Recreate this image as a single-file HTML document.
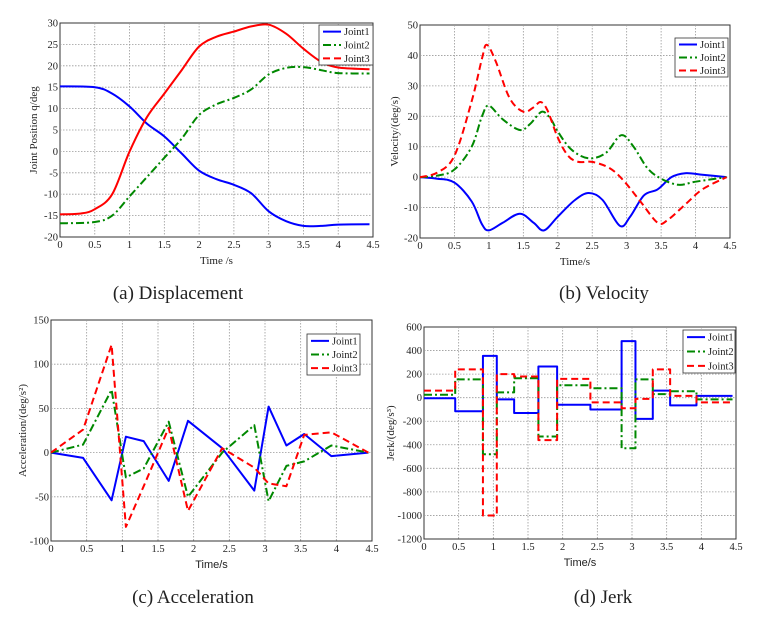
<!DOCTYPE html>
<html><head><meta charset="utf-8"><style>
body{margin:0;background:#fff;width:776px;height:620px;overflow:hidden}
svg{display:block}
text{font-family:"Liberation Serif",serif;fill:#222}
</style></head><body>
<svg id="s" width="776" height="620" xmlns="http://www.w3.org/2000/svg"></svg>
<script>
const S=document.getElementById('s');let H='';
const col={1:'#0000ff',2:'#008800',3:'#ff0000'};
const dash={1:'',2:'8,3,2,3',3:'7,4'};
function cr(pts){
 let d='M'+pts[0][0]+','+pts[0][1];
 for(let i=0;i<pts.length-1;i++){const p0=pts[i-1]||pts[i],p1=pts[i],p2=pts[i+1],p3=pts[i+2]||p2;
  const c1=[p1[0]+(p2[0]-p0[0])/6,p1[1]+(p2[1]-p0[1])/6],c2=[p2[0]-(p3[0]-p1[0])/6,p2[1]-(p3[1]-p1[1])/6];
  d+=` C${c1[0].toFixed(1)},${c1[1].toFixed(1)} ${c2[0].toFixed(1)},${c2[1].toFixed(1)} ${p2[0].toFixed(1)},${p2[1].toFixed(1)}`;}
 return d;}
function plot(o){
 const X=t=>o.x0+(o.x1-o.x0)*t/4.5,Y=v=>o.y1+(o.y0-o.y1)*(v-o.ymin)/(o.ymax-o.ymin);
 H+=`<rect x="${o.x0}" y="${o.y0}" width="${o.x1-o.x0}" height="${o.y1-o.y0}" fill="#fff" stroke="#333" stroke-width="1"/>`;
 for(let i=0;i<=9;i++){const t=i*0.5,x=X(t);
  if(i>0&&i<9)H+=`<line x1="${x}" y1="${o.y0}" x2="${x}" y2="${o.y1}" stroke="#999" stroke-dasharray="1.5,1.5" stroke-width="0.8"/>`;
  H+=`<text x="${x}" y="${o.y1+11}" font-size="10.5" text-anchor="middle">${t}</text>`;}
 for(const v of o.ticks){const y=Y(v);
  if(v!=o.ymin&&v!=o.ymax)H+=`<line x1="${o.x0}" y1="${y}" x2="${o.x1}" y2="${y}" stroke="#999" stroke-dasharray="1.5,1.5" stroke-width="0.8"/>`;
  H+=`<text x="${o.x0-2}" y="${y+3.5}" font-size="10.5" text-anchor="end">${v}</text>`;}
 const dd=k=>(o.dash&&o.dash[k]!==undefined)?o.dash[k]:dash[k];
 for(const s of o.series){let d;
  if(o.type=='smooth')d=cr(s.p.map(p=>[X(p[0]),Y(p[1])]));
  else if(o.type=='line')d='M'+s.p.map(p=>X(p[0]).toFixed(1)+','+Y(p[1]).toFixed(1)).join(' L');
  else{const b=o.bp;d='M'+X(b[0])+','+Y(s.p[0]);for(let i=0;i<s.p.length;i++){d+=` L${X(b[i+1])},${Y(s.p[i])}`;if(i+1<s.p.length)d+=` L${X(b[i+1])},${Y(s.p[i+1])}`;}}
  H+=`<path d="${d}" fill="none" stroke="${col[s.k]}" stroke-width="2" stroke-dasharray="${dd(s.k)}" stroke-linejoin="round"/>`;}
 const L=o.leg;H+=`<rect x="${L[0]}" y="${L[1]}" width="${L[2]}" height="${L[3]}" fill="#fff" stroke="#333" stroke-width="0.8"/>`;
 for(let k=1;k<=3;k++){const y=L[1]+L[3]*(k-0.5)/3;
  H+=`<line x1="${L[0]+4}" y1="${y}" x2="${L[0]+22}" y2="${y}" stroke="${col[k]}" stroke-width="2" stroke-dasharray="${dash[k]}"/><text x="${L[0]+25}" y="${y+3.5}" font-size="10.5">Joint${k}</text>`;}
 H+=`<text x="${(o.x0+o.x1)/2}" y="${o.y1+27}" font-size="11" text-anchor="middle" ${o.xsans?'style="font-family:Liberation Sans,sans-serif"':''}>${o.xl}</text>`;
 H+=`<text transform="translate(${o.ylx},${(o.y0+o.y1)/2}) rotate(-90)" font-size="11" text-anchor="middle">${o.yl}</text>`;
 H+=`<text x="${o.cx}" y="${o.cy}" font-size="19" text-anchor="middle">${o.cap}</text>`;
}
plot({x0:60,x1:373,y0:23,y1:237,ymin:-20,ymax:30,ticks:[-20,-15,-10,-5,0,5,10,15,20,25,30],type:'smooth',dash:{3:''},leg:[319,25,54,40],xl:'Time /s',yl:'Joint Position q/deg',ylx:37,cx:178,cy:299,cap:'(a) Displacement',series:[
{k:1,p:[[0,15.2],[0.5,15],[0.75,13.5],[1,10.5],[1.25,6.5],[1.5,3.5],[1.75,-0.5],[2,-4.5],[2.25,-6.5],[2.5,-7.8],[2.75,-9.8],[3,-14],[3.25,-16.3],[3.5,-17.4],[3.75,-17.4],[4,-17.1],[4.45,-17]]},
{k:2,p:[[0,-16.8],[0.5,-16.5],[0.75,-15],[1,-10.5],[1.25,-6],[1.5,-1.5],[1.75,3],[2,8.5],[2.25,11],[2.5,12.5],[2.75,14.5],[3,18],[3.25,19.5],[3.5,19.7],[3.75,19],[4,18.3],[4.45,18.2]]},
{k:3,p:[[0,-14.7],[0.3,-14.5],[0.5,-13.5],[0.75,-10],[1,0],[1.25,8],[1.5,13.5],[1.75,19],[2,24.5],[2.25,26.8],[2.5,28],[2.75,29.2],[3,29.6],[3.25,27.5],[3.5,24],[3.75,21],[4,19.6],[4.45,19.2]]}]});
plot({x0:420,x1:730,y0:25,y1:238,ymin:-20,ymax:50,ticks:[-20,-10,0,10,20,30,40,50],type:'smooth',leg:[675,38,53,39],xl:'Time/s',yl:'Velocity/(deg/s)',ylx:398,cx:604,cy:299,cap:'(b) Velocity',series:[
{k:1,p:[[0,0],[0.25,-0.5],[0.5,-1.8],[0.75,-8],[0.9,-15.5],[1,-17.5],[1.2,-15],[1.45,-12],[1.65,-15],[1.8,-17.5],[2,-13],[2.25,-7.5],[2.45,-5.2],[2.65,-7.5],[2.9,-16],[3.05,-13],[3.25,-6],[3.45,-4],[3.65,0],[3.85,1.3],[4.1,0.8],[4.45,0]]},
{k:2,p:[[0,0],[0.25,0.5],[0.5,2.5],[0.75,10],[0.9,20],[1,23.5],[1.2,19],[1.45,15.5],[1.6,17.5],[1.77,21.5],[1.9,19],[2,15],[2.2,9],[2.45,6.2],[2.7,8],[2.92,13.8],[3.1,10],[3.3,3],[3.5,-0.5],[3.75,-2.5],[4,-1.5],[4.45,0]]},
{k:3,p:[[0,0],[0.25,1.5],[0.5,7],[0.75,25],[0.9,39],[0.97,43.5],[1.1,38],[1.3,26],[1.5,21.5],[1.65,23],[1.75,24.7],[1.85,22],[2,13],[2.15,7],[2.3,5],[2.5,5],[2.75,3],[2.95,-1],[3.2,-8],[3.45,-15],[3.6,-14],[3.85,-9],[4.1,-4],[4.45,0]]}]});
plot({x0:51,x1:372,y0:320,y1:541,ymin:-100,ymax:150,ticks:[-100,-50,0,50,100,150],type:'line',leg:[307,334,53,41],xl:'Time/s',xsans:1,yl:'Acceleration/(deg/s²)',ylx:26,cx:193,cy:603,cap:'(c) Acceleration',series:[
{k:1,p:[[0,0],[0.45,-6],[0.85,-54],[1.05,18],[1.3,13],[1.65,-32],[1.92,36],[2.4,5],[2.85,-43],[3.05,52],[3.3,8],[3.55,21],[3.93,-4],[4.45,0]]},
{k:2,p:[[0,0],[0.45,9],[0.85,71],[1.05,-28],[1.3,-18],[1.65,35],[1.92,-50],[2.4,0],[2.85,31],[3.05,-55],[3.3,-15],[3.55,-10],[3.93,8],[4.45,0]]},
{k:3,p:[[0,0],[0.45,26],[0.85,122],[1.05,-84],[1.3,-38],[1.65,28],[1.92,-66],[2.4,5],[2.85,-17],[3.05,-35],[3.3,-38],[3.55,20],[3.93,23],[4.45,0]]}]});
plot({x0:424,x1:736,y0:327,y1:539,ymin:-1200,ymax:600,ticks:[-1200,-1000,-800,-600,-400,-200,0,200,400,600],type:'step',bp:[0,0.45,0.85,1.05,1.3,1.65,1.92,2.4,2.85,3.05,3.3,3.55,3.93,4.45],leg:[683,330,52,43],xl:'Time/s',xsans:1,yl:'Jerk/(deg/s³)',ylx:394,cx:603,cy:603,cap:'(d) Jerk',series:[
{k:1,p:[-5,-115,355,-15,-130,265,-60,-100,480,-180,60,-65,15]},
{k:2,p:[25,155,-480,45,165,-330,105,80,-430,155,30,55,-15]},
{k:3,p:[60,240,-1000,200,180,-360,160,-40,-90,-10,240,15,-40]}]});
S.innerHTML=H;
</script>
</body></html>
